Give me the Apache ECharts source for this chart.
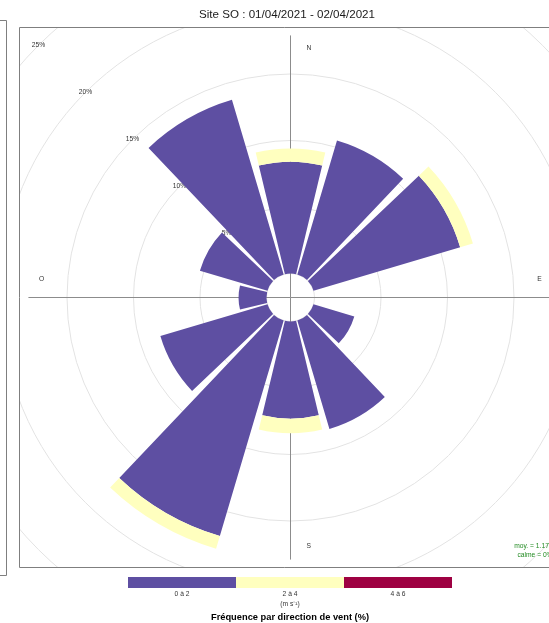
<!DOCTYPE html>
<html><head><meta charset="utf-8">
<script src="https://cdn.jsdelivr.net/npm/echarts@6/dist/echarts.min.js"></script>
<style>html,body{margin:0;padding:0;background:#fff}#c{width:549px;height:623px}</style>
</head><body><div id="c"></div>
<script>
// ---- data ----
const directions = ['0','30','60','90','120','150','180','210','240','270','300','330'];
const speed0to2 = [8.4, 10.5, 11.5, 0, 3.2, 8.5, 7.3, 16.9, 8.4, 2.1, 5.3, 13.7];
const speed2to4 = [1.0, 0, 1.0, 0, 0, 0, 1.1, 1.0, 0, 0, 0, 0];
const speed4to6 = [0, 0, 0, 0, 0, 0, 0, 0, 0, 0, 0, 0];
const speedLabels = ['0 à 2', '2 à 4', '4 à 6'];
const speedColors = ['#5E4FA2', '#FFFFBF', '#9E0142'];
const ringMax = 25, ringStep = 5;
const compassLabels = ['N', 'E', 'S', 'O'];
const titleText = 'Site SO : 01/04/2021 - 02/04/2021';
const unitText = '(m s\u207B\u00B9)';
const keyTitle = 'Fréquence par direction de vent (%)';
const meanText = 'moy. = 1.178';
const calmText = 'calme = 0%';

// ---- layout ----
const FONT = '"Liberation Sans", Arial, Helvetica, sans-serif';
const cx = 290.5, cy = 297.5, hole = 24, pxPerPct = 13.3;
const outerR = hole + ringMax * pxPerPct;
const totals = speed0to2.map((v, i) => v + speed2to4[i] + speed4to6[i]);
const crossR = hole + Math.max(...totals) * pxPerPct;

const chart = echarts.init(document.getElementById('c'), null, {renderer: 'canvas'});

const series = [speed0to2, speed2to4, speed4to6].map((arr, k) => ({
  type: 'bar', coordinateSystem: 'polar', polarIndex: 0, stack: 'ws',
  name: speedLabels[k], data: arr.map(v => v === 0 ? '-' : v), barCategoryGap: '10%',
  itemStyle: {color: speedColors[k]}, emphasis: {disabled: true}, silent: true
}));

const graphics = [];
// masks (panel clipping)
[[0,0,549,27],[0,568,549,55],[0,0,19,623]].forEach(r => graphics.push({
  type: 'rect', z: 50, silent: true, shape: {x: r[0], y: r[1], width: r[2], height: r[3]},
  style: {fill: '#fff'}
}));
// panel borders
graphics.push({type: 'rect', z: 60, silent: true,
  shape: {x: 19.5, y: 27.5, width: 600, height: 540}, style: {fill: 'none', stroke: '#7f7f7f', lineWidth: 1}});
graphics.push({type: 'polyline', z: 60, silent: true,
  shape: {points: [[-2, 20.5], [6.5, 20.5], [6.5, 575.5], [-2, 575.5]]}, style: {fill: 'none', stroke: '#7f7f7f', lineWidth: 1}});
// title
graphics.push({type: 'text', z: 60, style: {x: 287, y: 14.5, text: titleText, textAlign: 'center', textVerticalAlign: 'middle',
  font: '11.6px ' + FONT, fill: '#1a1a1a'}});
// compass labels
const cpos = [[0.07, -0.95], [0.95, -0.07], [0.07, 0.95], [-0.95, -0.07]];
compassLabels.forEach((t, i) => graphics.push({type: 'text', z: 10, style: {
  x: cx + cpos[i][0] * crossR, y: cy + cpos[i][1] * crossR, text: t, textAlign: 'center', textVerticalAlign: 'middle',
  font: '6.7px ' + FONT, fill: '#333'}}));
// mean / calm
graphics.push({type: 'text', z: 10, style: {x: cx + crossR, y: cy + crossR - 10, text: meanText, textAlign: 'right', textVerticalAlign: 'bottom', font: '6.7px ' + FONT, fill: '#228B22'}});
graphics.push({type: 'text', z: 10, style: {x: cx + crossR, y: cy + crossR - 1, text: calmText, textAlign: 'right', textVerticalAlign: 'bottom', font: '6.7px ' + FONT, fill: '#228B22'}});
// key
const keyX = 128, keyW = 108, keyY = 577, keyH = 11;
speedLabels.forEach((lab, k) => {
  graphics.push({type: 'rect', z: 60, silent: true, shape: {x: keyX + k * keyW, y: keyY, width: keyW, height: keyH}, style: {fill: speedColors[k]}});
  graphics.push({type: 'text', z: 60, style: {x: keyX + k * keyW + keyW / 2, y: keyY + keyH + 6, text: lab, textAlign: 'center', textVerticalAlign: 'middle', font: '6.7px ' + FONT, fill: '#333'}});
});
graphics.push({type: 'text', z: 60, style: {x: keyX + 1.5 * keyW, y: 604.5, text: unitText, textAlign: 'center', textVerticalAlign: 'middle', font: '6.7px ' + FONT, fill: '#333'}});
graphics.push({type: 'text', z: 60, style: {x: keyX + 1.5 * keyW, y: 617, text: keyTitle, textAlign: 'center', textVerticalAlign: 'middle', font: 'bold 9.3px ' + FONT, fill: '#000'}});

const hiddenAngle = {axisLine: {show: false}, axisTick: {show: false}, axisLabel: {show: false}, splitLine: {show: false}};

chart.setOption({
  animation: false,
  polar: [
    {center: [cx, cy], radius: [hole, outerR]},
    {center: [cx, cy], radius: [hole, outerR]},
    {center: [cx, cy], radius: crossR}
  ],
  angleAxis: [
    Object.assign({polarIndex: 0, type: 'category', data: directions, startAngle: 105, clockwise: true, boundaryGap: true}, hiddenAngle),
    Object.assign({polarIndex: 1, type: 'value', min: 0, max: 360, startAngle: 135}, hiddenAngle),
    {polarIndex: 2, type: 'value', min: 0, max: 360, interval: 90, startAngle: 90,
     axisLine: {show: false}, axisTick: {show: false}, axisLabel: {show: false},
     splitLine: {show: true, lineStyle: {color: '#8c8c8c', width: 1}}}
  ],
  radiusAxis: [
    {polarIndex: 0, type: 'value', min: 0, max: ringMax, interval: ringStep,
     axisLine: {show: false}, axisTick: {show: false}, axisLabel: {show: false},
     splitLine: {show: true, lineStyle: {color: '#e3e3e3', width: 1}}},
    {polarIndex: 1, type: 'value', min: 0, max: ringMax, interval: ringStep,
     axisLine: {show: false}, axisTick: {show: false}, splitLine: {show: false},
     axisLabel: {show: true, margin: 0, align: 'center', verticalAlign: 'middle', fontSize: 6.7, fontFamily: FONT, color: '#333',
       formatter: v => v === 0 ? '' : v + '%'}},
    {polarIndex: 2, type: 'value', min: 0, max: 1, show: false}
  ],
  series: series,
  graphic: {elements: graphics}
});
</script>
</body></html>
